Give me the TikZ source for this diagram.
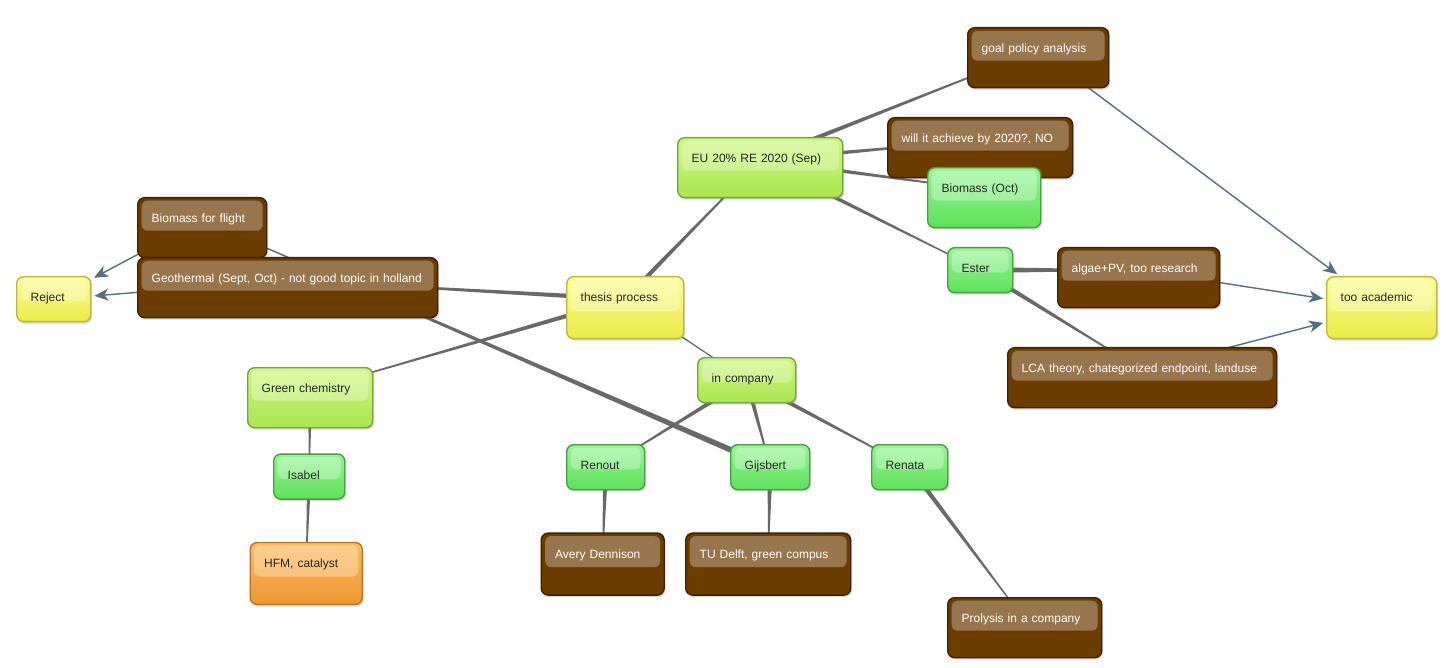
\documentclass[tikz,border=0pt]{standalone}
\usepackage{fontspec}
\setmainfont{Liberation Sans}
\usetikzlibrary{positioning, calc, backgrounds, shadows, arrows.meta}

\definecolor{cmbrown}{RGB}{107,60,0}
\definecolor{cmbrowndark}{RGB}{62,34,0}
\definecolor{limetop}{RGB}{205,247,130}
\definecolor{limebot}{RGB}{170,230,80}
\definecolor{limedark}{RGB}{115,165,55}
\definecolor{greentop}{RGB}{150,245,150}
\definecolor{greenbot}{RGB}{95,225,90}
\definecolor{greendark}{RGB}{70,160,65}
\definecolor{yellowtop}{RGB}{252,252,150}
\definecolor{yellowbot}{RGB}{235,235,70}
\definecolor{yellowdark}{RGB}{185,185,70}
\definecolor{orangetop}{RGB}{252,190,95}
\definecolor{orangebot}{RGB}{236,150,50}
\definecolor{orangedark}{RGB}{185,115,40}
\definecolor{linkgray}{RGB}{105,105,105}
\definecolor{arrowblue}{RGB}{85,110,128}

% tapered link, thick end at #2
\newcommand{\taperlink}[3][2.5pt]{%
  \fill[linkgray] ($(#2.mid)!#1!90:(#3.mid)$) -- ($(#3.mid)!0.4pt!-90:(#2.mid)$)
    -- ($(#3.mid)!0.4pt!90:(#2.mid)$) -- ($(#2.mid)!#1!-90:(#3.mid)$) -- cycle;}

\begin{document}
\begin{tikzpicture}
  [x=1pt, y=-1pt,
   box/.style={rectangle, rounded corners=7pt, line width=1.4pt, anchor=north west,
     inner xsep=14pt, inner ysep=0pt, text height=25pt, text depth=35pt, align=left,
     font=\fontsize{12}{14}\selectfont,
     drop shadow={opacity=0.3, shadow xshift=1.5pt, shadow yshift=-2pt},
     path picture={\fill[white, opacity=0.3, rounded corners=6pt]
       ([xshift=4pt, yshift=-3pt]path picture bounding box.north west) rectangle
       ($([xshift=-4pt]path picture bounding box.north east)!0.55!([xshift=-4pt]path picture bounding box.south east)$);}},
   short/.style={text depth=20pt},
   brownbox/.style={box, draw=cmbrowndark, fill=cmbrown, text=white},
   limebox/.style={box, draw=limedark, top color=limetop, bottom color=limebot, text=black!85},
   greenbox/.style={box, draw=greendark, top color=greentop, bottom color=greenbot, text=black!85},
   yellowbox/.style={box, draw=yellowdark, top color=yellowtop, bottom color=yellowbot, text=black!85},
   orangebox/.style={box, draw=orangedark, top color=orangetop, bottom color=orangebot, text=black!85},
   arrow/.style={-{Stealth[length=14pt, width=12pt, inset=4pt]}, line width=1.4pt, draw=arrowblue, fill=arrowblue, shorten >=3pt}]

  \useasboundingbox (0,0) rectangle (1446,668);

  % left part
  \node[yellowbox, short, text width=46pt] (reject) at (16,276) {Reject};
  \node[brownbox, text width=101pt] (bflight) at (137,197) {Biomass for flight};
  \node[brownbox, text width=272pt] (geo) at (137,257) {Geothermal (Sept, Oct) - not good topic in holland};
  \node[limebox, text width=97pt] (gchem) at (247,367) {Green chemistry};
  \node[greenbox, short, text width=43pt] (isabel) [below=25pt of gchem, xshift=-1pt] {Isabel};
  \node[orangebox, text depth=37pt, text width=84pt] (hfm) [below=42pt of isabel, xshift=-3pt] {HFM, catalyst};

  % middle
  \node[yellowbox, text depth=37pt, text width=89pt] (thesis) at (566,276) {thesis process};
  \node[limebox, text width=137pt] (eu) at (677,137) {EU 20\% RE 2020 (Sep)};
  \node[limebox, short, text width=70pt] (incomp) at (697,357) {in company};
  \node[greenbox, short, text width=50pt] (renout) at (566,444) {Renout};
  \node[greenbox, short, text width=51pt] (gijs) at (730,444) {Gijsbert};
  \node[greenbox, short, text width=48pt] (renata) at (871,444) {Renata};
  \node[brownbox, text depth=37pt, text width=95pt] (avery) [below=42pt of renout, xshift=-3pt] {Avery Dennison};
  \node[brownbox, text depth=37pt, text width=137pt] (tud) [below=42pt of gijs, xshift=-2pt] {TU Delft, green compus};
  \node[brownbox, text width=126pt] (prolysis) at (947,597) {Prolysis in a company};

  % right part
  \node[brownbox, text width=113pt] (goal) at (967,27) {goal policy analysis};
  \node[brownbox, text width=157pt] (will) at (887,117) {will it achieve by 2020?, NO};
  \node[greenbox, text width=85pt] (boct) at (927,167) {Biomass (Oct)};
  \node[greenbox, short, text width=37pt] (ester) at (947,247) {Ester};
  \node[brownbox, text width=134pt] (algae) at (1057,247) {algae+PV, too research};
  \node[brownbox, text width=241pt] (lca) at (1007,347) {LCA theory, chategorized endpoint, landuse};
  \node[yellowbox, text depth=37pt, text width=82pt] (acad) at (1326,276) {too academic};

  \begin{scope}[on background layer]
    \taperlink{eu}{goal}
    \taperlink{eu}{will}
    \taperlink{eu}{boct}
    \taperlink{eu}{ester}
    \taperlink{thesis}{eu}
    \taperlink{thesis}{geo}
    \taperlink{thesis}{gchem}
    \taperlink[1pt]{thesis}{incomp}
    \taperlink[3pt]{gijs}{bflight}
    \taperlink{incomp}{renout}
    \taperlink{incomp}{gijs}
    \taperlink{incomp}{renata}
    \taperlink{renout}{avery}
    \taperlink{gijs}{tud}
    \taperlink{renata}{prolysis}
    \taperlink[2pt]{gchem}{isabel}
    \taperlink[2pt]{isabel}{hfm}
    \taperlink[3pt]{ester}{algae}
    \taperlink{ester}{lca}

    \draw[arrow] (bflight.mid) -- (reject);
    \draw[arrow] (geo.mid) -- (reject);
    \draw[arrow] (goal.mid) -- (acad);
    \draw[arrow] (algae.mid) -- (acad);
    \draw[arrow] (lca.mid) -- (acad);
  \end{scope}

\end{tikzpicture}
\end{document}
